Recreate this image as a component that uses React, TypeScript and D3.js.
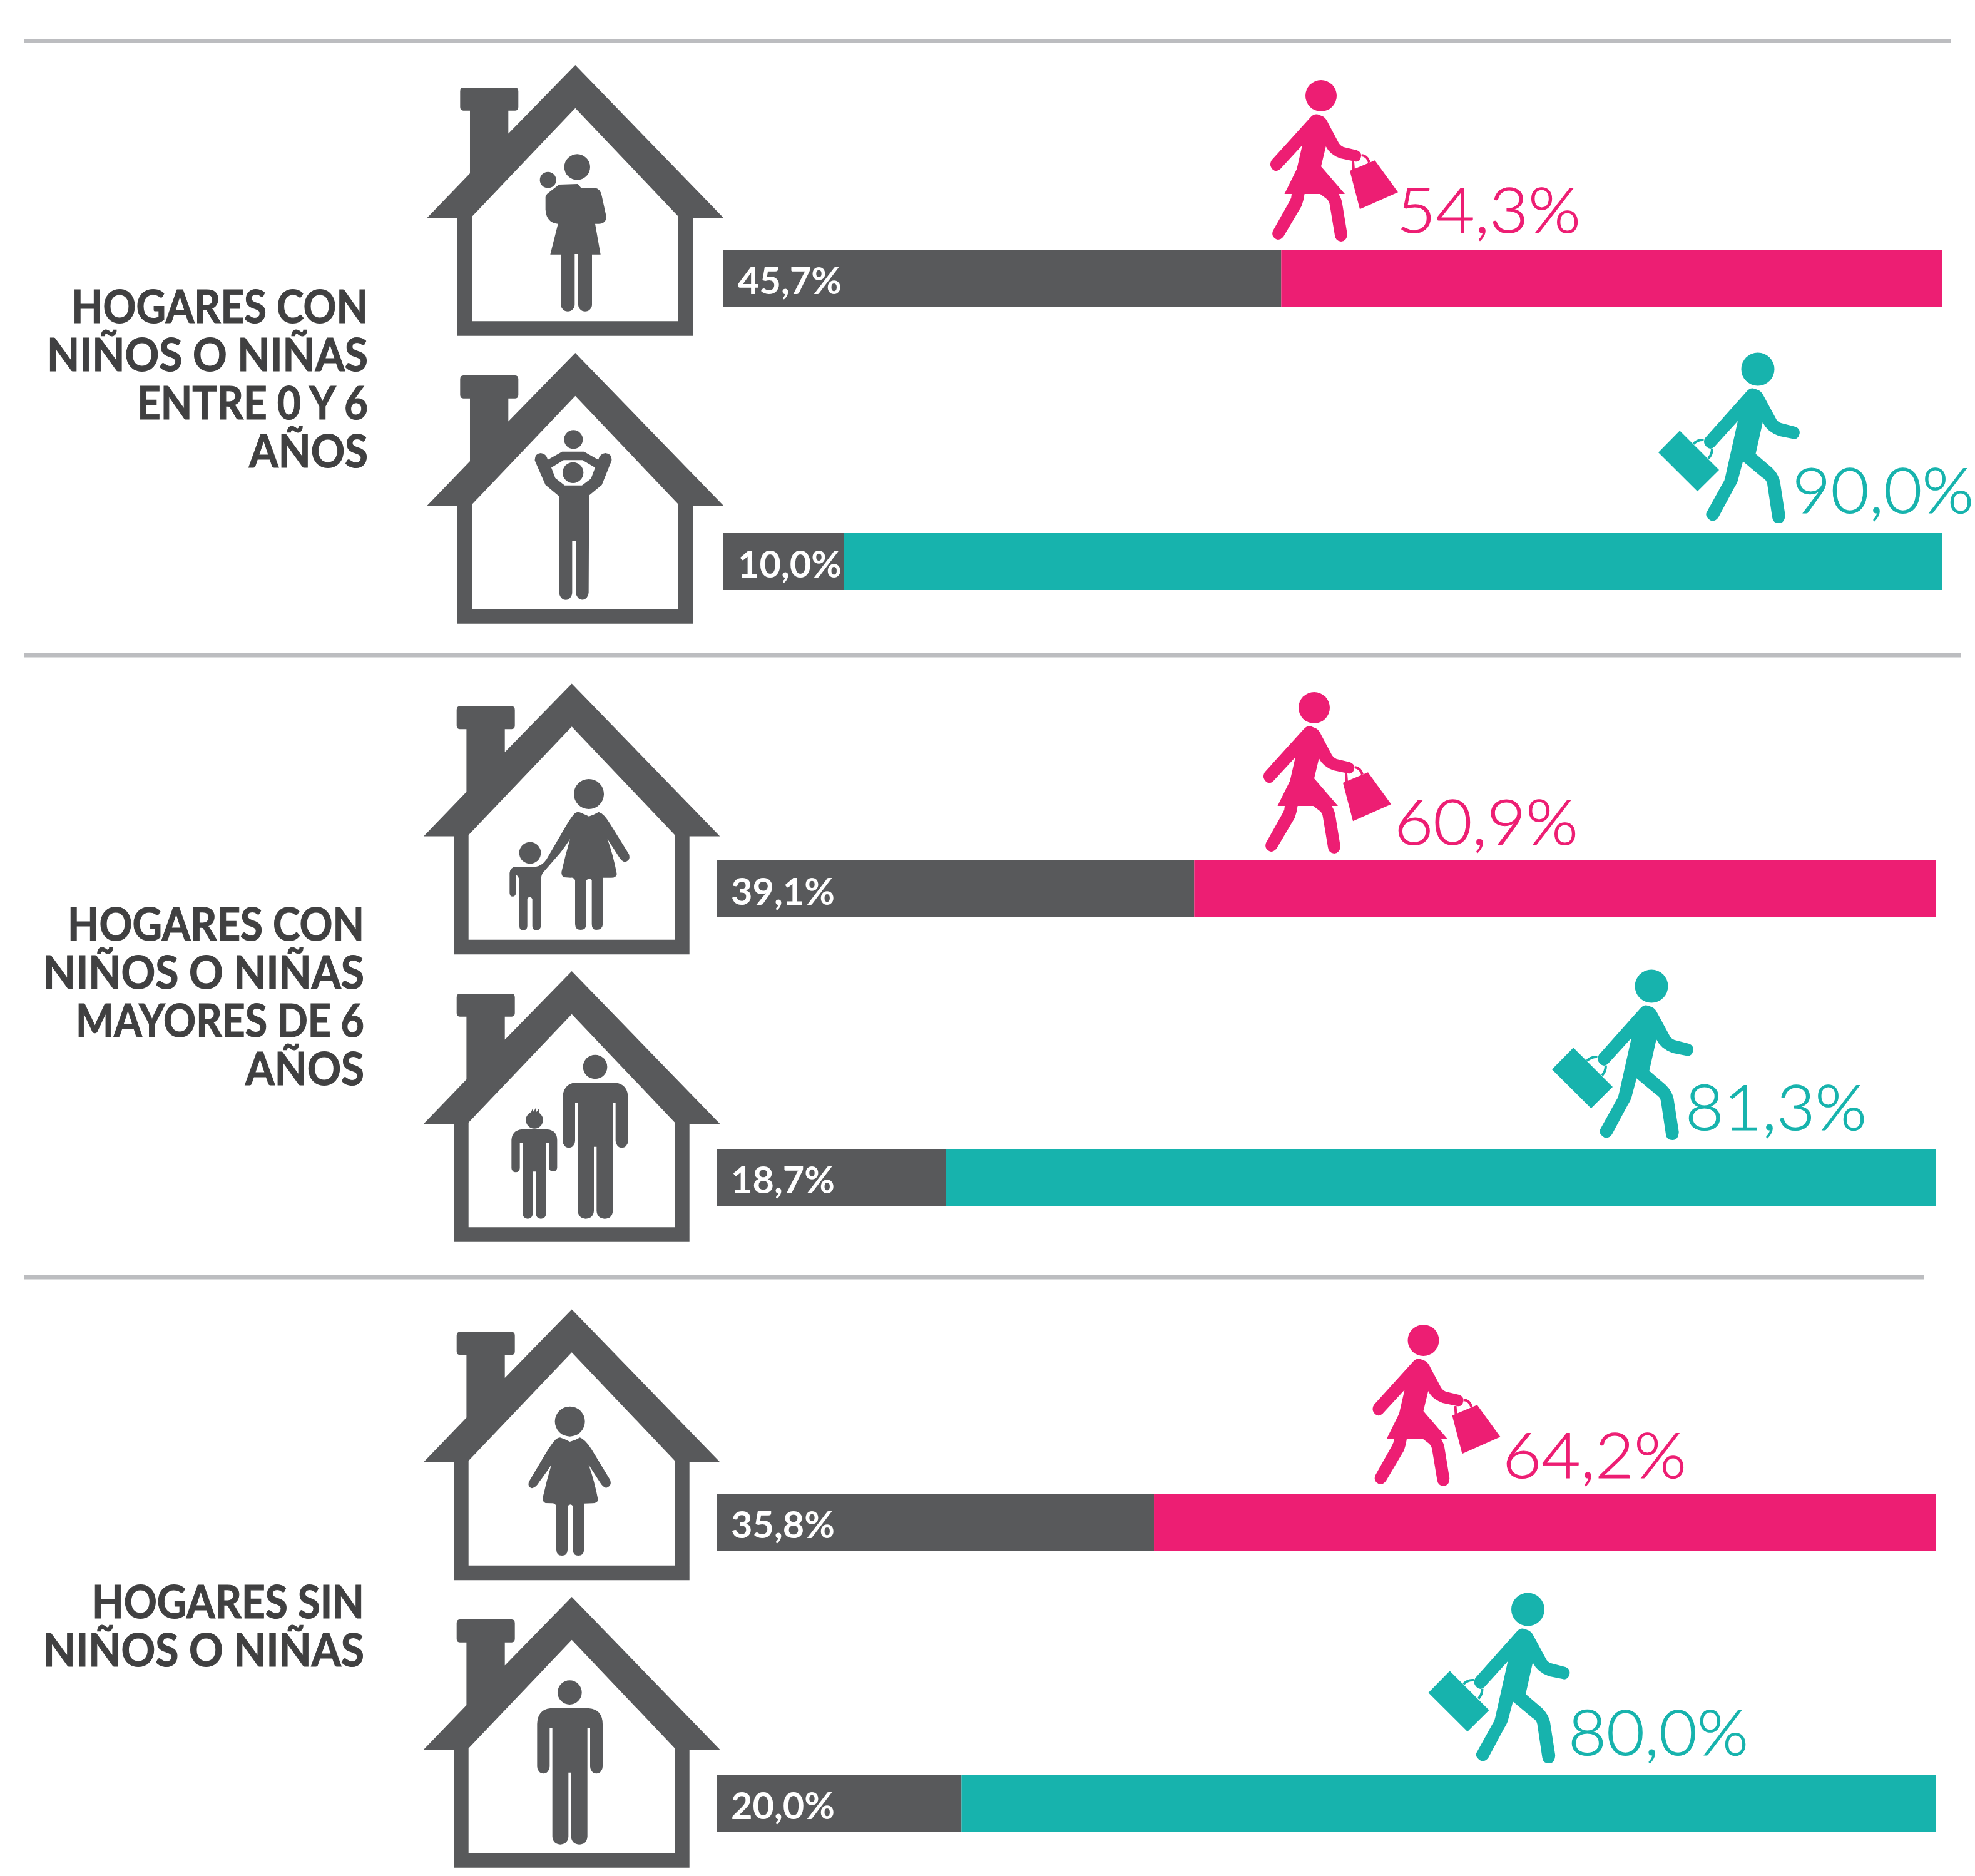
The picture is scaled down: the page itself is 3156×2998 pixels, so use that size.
import React from "react";
import * as d3 from "d3";

// ---------- data ----------
const rowKeys = ["r1", "r2", "r3", "r4", "r5", "r6"];
const notWorking = [45.7, 10.0, 39.1, 18.7, 35.8, 20.0];
const working = [54.3, 90.0, 60.9, 81.3, 64.2, 80.0];
const walkerKinds = ["woman", "man", "woman", "man", "woman", "man"];
const sectionLines = [
  ["HOGARES CON", "NIÑOS O NIÑAS", "ENTRE 0 Y 6", "AÑOS"],
  ["HOGARES CON", "NIÑOS O NIÑAS", "MAYORES DE 6", "AÑOS"],
  ["HOGARES SIN", "NIÑOS O NIÑAS"],
];

// ---------- layout ----------
const PINK = "#ED1E73";
const TEAL = "#17B3AD";
const GREY = "#58595B";
const TEXT = "#404041";
const RULE = "#BCBDC0";
const BAR_H = 91;
const barTop = [399, 852, 1375, 1836, 2387, 2836];
const barX0 = [1156, 1156, 1145, 1145, 1145, 1145];
const scaleX0 = [1158, 1154, 1147, 1147, 1147, 1147];
const barX1 = [3104, 3104, 3094, 3094, 3094, 3094];
const houseApex = [[919.3, 104], [919.3, 564], [913.7, 1092.5], [913.7, 1552], [913.7, 2092.5], [913.7, 2552]];
const walkerHead = [[2111, 153], [2809, 590], [2100, 1131], [2639, 1576], [2274.5, 2142], [2441.5, 2572]];
const valueX = [2232, 2864, 2228, 2693, 2401, 2506];
const valueBase = [372, 820, 1350, 1806, 2362, 2805];
const valueW = [294, 290, 294, 290, 294, 288];
const rules = [[38, 3118, 65.5], [38, 3134, 1047], [38, 3074, 2041]];
const sectionRight = [588, 582, 582];
const sectionBase = [516, 1503, 2586];
const sectionWidths = [[474, 513, 369, 190], [474, 513, 461, 190], [435, 513]];

// ---------- glyphs ----------
const HOUSE =
  "M0,0 L236.7,244 L188,244 L188,432.7 L-188.3,432.7 L-188.3,244 L-236.7,244 L-168.3,173 L-168.3,72.7 L-179,72.7 Q-184,72.7 -184,67 L-184,42 Q-184,36 -179,36 L-96,36 Q-91,36 -91,42 L-91,67 Q-91,72.7 -96,72.7 L-107,72.7 L-107,109.5 Z " +
  "M0,68.7 L-165,242 L-165,409.3 L164.7,409.3 L164.7,242 Z";

const WOMAN_WALK =
  "M-16.5,34 Q-10,27 -2,31 L3,33 Q8,36 11,43 L28,75 Q31,80 36,82 L57,87 Q65,90 64,97 Q62,107 54,105 L30.6,100 Q14,94 7.7,81 L0,113 L38,157 L28,157 Q33,165 34,173 L41.7,220 Q42,232 32,233 Q23,232 22,223 L14,175 Q13,168 9,165 L-1.5,157 L-26.4,157 Q-28,168 -31,176 L-60,225 Q-66,232 -72,229 Q-80,225 -77,216 L-50,168 Q-47,163 -47,157 L-58.5,157 L-38.7,117 L-30,79 L-65,117 Q-71,123 -77,118 Q-84,111 -79,103 Z";
const WOMAN_BAG = "M46,120 L86,103.3 L123,154.3 L62,181.3 Z";
const WOMAN_HANDLE = "M51,105 L52,118 M64.7,95 Q74,96 77,106.7";

const MAN_WALK =
  "M-16.7,34.3 Q-11,28 -3,32 L2,34 Q6,36 10,44 L28.4,78 Q31,84 37,86 L60,92 Q68,95 66.7,103 Q64,114 55,111 L33.7,106.7 Q15,100 7.8,85 L-3.5,135.3 L23,158 Q33,168 35.5,180 L43.7,233 Q43,246 33.7,246 Q24,246 23,236.7 L15,183.3 Q14,177 7,173 L-23.8,147.3 L-32,178 Q-33,182 -38,190 L-63,236.7 Q-68,244 -75,242 Q-85,236 -82,229 L-56,182 Q-53,178 -52,172 L-32,82.7 L-69.5,124 Q-76,130 -82,124 Q-89,117 -83.7,109.3 Z";
const MAN_CASE = "M-124.8,98.3 L-62,161 L-96.5,195.3 L-159,133 Z";
const MAN_HANDLE = "M-103,119.3 Q-96,112 -86.5,113 M-73,126.7 Q-73,136 -79,142.7";

const ADULT_MAN =
  "M420,210 L605,210 Q670,215 671,285 L671,490 A30,33 0 0 1 611,490 L611,306 L598,306 L598,825 Q595,863 558,863 Q522,860 520,825 L520,518 L507,518 L507,825 Q505,860 468,863 Q432,860 430,825 L430,306 L417,306 L417,490 A30,33 0 0 1 357,490 L357,285 Q360,215 420,210 Z";

const occupants = [
  {
    origin: [660, 80],
    heads: [[787, 561, 62], [647, 623, 39]],
    paths: ["M700,645 L790,642 L805,660 L870,660 Q900,665 905,700 L927,800 Q925,832 890,833 L873,833 L899,980 L858,980 L858,1220 A33,33 0 0 1 792,1220 L792,978 L775,978 L775,1220 A33,33 0 0 1 709,1220 L709,980 L658,980 L695,833 Q640,830 635,765 L635,705 Q636,695 645,688 Z"],
  },
  {
    origin: [780, 660],
    heads: [[409, 127, 45], [407, 286, 50]],
    paths: ["M355,185 L460,185 L528,224 Q535,195 562,192 Q595,195 592,228 L545,345 L484,395 L482,860 A30,35 0 0 1 421,860 L421,612 L403,612 L403,860 A30,35 0 0 1 341,860 L341,400 L275,345 L224,228 Q222,195 252,192 Q280,195 286,224 Z M362,226 L452,226 L513,262 L493,315 L450,347 L367,347 L322,312 L303,262 Z"],
  },
  {
    origin: [780, 1220],
    heads: [[483, 147, 72], [201, 429, 52]],
    paths: ["M435,233 Q455,240 483,254 Q510,245 530,233 Q555,240 585,290 L675,435 Q685,465 655,473 Q640,470 625,445 L572,362 Q600,440 617,530 Q615,548 590,548 L550,548 L550,770 Q548,798 518,798 Q497,798 497,770 L497,560 Q485,545 471,560 L471,770 Q470,798 444,798 Q418,798 417,770 L417,560 Q410,546 395,548 L365,546 Q350,540 352,520 Q370,440 393,362 Q375,390 345,430 L262,525 Q255,535 253,560 L253,780 Q250,800 232,800 Q212,800 212,780 L212,650 Q200,630 188,650 L188,780 Q187,800 168,800 Q150,800 150,780 L150,560 Q145,540 135,535 L135,620 Q130,638 118,638 Q103,638 103,620 L103,525 Q105,500 130,495 L230,495 Q260,490 280,460 L350,340 Q395,260 415,240 Q425,232 435,233 Z"],
  },
  {
    origin: [780, 1660],
    heads: [[513, 135, 58], [222, 390, 41]],
    paths: [
      ADULT_MAN,
      "M160,435 L285,435 Q330,440 331,485 L331,620 A20,20 0 0 1 292,620 L292,498 L279,498 L279,835 Q277,863 253,863 Q230,863 228,835 L228,637 L215,637 L215,835 Q213,863 190,863 Q166,863 165,835 L165,498 L152,498 L152,620 A20,20 0 0 1 112,620 L112,485 Q115,440 160,435 Z",
      "M205,355 L213,335 L218,352 L227,333 L232,352 L245,333 L245,365 Z",
    ],
  },
  {
    origin: [780, 2220],
    heads: [[392, 155, 72]],
    paths: ["M345,232 Q370,240 392,252 Q420,245 440,232 Q465,240 497,290 L585,435 Q595,465 565,473 Q550,470 535,445 L482,362 Q510,440 527,530 Q525,546 500,547 L460,548 L460,770 Q458,798 432,798 Q407,798 407,770 L407,560 Q395,545 381,560 L381,770 Q380,798 354,798 Q328,798 327,770 L327,560 Q320,546 305,547 L275,546 Q260,540 262,520 Q280,440 303,362 Q285,390 245,445 Q230,472 210,475 Q188,470 195,445 L275,310 Q305,260 325,240 Q335,232 345,232 Z"],
  },
  {
    origin: [780 - 122 / 3, 2660],
    heads: [[513, 134, 58]],
    paths: [ADULT_MAN],
  },
];

const fmt = (v: number) => v.toFixed(1).replace(".", ",") + "%";

function Walker({ kind, color, x, y }: { kind: string; color: string; x: number; y: number }) {
  const woman = kind === "woman";
  return (
    <g transform={`translate(${x},${y})`} fill={color}>
      <circle r={woman ? 25 : 26.5} />
      <path d={woman ? WOMAN_WALK : MAN_WALK} />
      <path d={woman ? WOMAN_BAG : MAN_CASE} />
      <path d={woman ? WOMAN_HANDLE : MAN_HANDLE} fill="none" stroke={color} strokeWidth={4} />
    </g>
  );
}

export default function App() {
  return (
    <svg
      width={3156}
      height={2998}
      viewBox="0 0 3156 2998"
      style={{ position: "absolute", left: 0, top: 0, background: "#fff" }}
    >
      {rules.map(([x0, x1, y], i) => (
        <line key={i} x1={x0} x2={x1} y1={y} y2={y} stroke={RULE} strokeWidth={7} />
      ))}

      {sectionLines.map((lines, s) => (
        <g key={s}>
          {lines.map((t, i) => (
            <text
              key={i}
              x={sectionRight[s]}
              y={sectionBase[s] + i * 77}
              textAnchor="end"
              fontFamily="Lato"
              fontWeight={700}
              fontSize={73}
              fill={TEXT}
              stroke={TEXT}
              strokeWidth={1.2}
              textLength={sectionWidths[s][i]}
              lengthAdjust="spacingAndGlyphs"
            >
              {t}
            </text>
          ))}
        </g>
      ))}

      {rowKeys.map((k, i) => {
        const x = d3.scaleLinear().domain([0, 100]).range([scaleX0[i], barX1[i]]);
        const color = walkerKinds[i] === "woman" ? PINK : TEAL;
        const occ = occupants[i];
        return (
          <g key={k}>
            <path d={HOUSE} transform={`translate(${houseApex[i][0]},${houseApex[i][1]})`} fill={GREY} fillRule="evenodd" />
            <g transform={`translate(${occ.origin[0]},${occ.origin[1]}) scale(${1 / 3})`} fill={GREY}>
              {occ.heads.map(([cx, cy, r], j) => (
                <circle key={j} cx={cx} cy={cy} r={r} />
              ))}
              {occ.paths.map((d, j) => (
                <path key={j} d={d} fillRule="evenodd" />
              ))}
            </g>
            <rect x={barX0[i]} y={barTop[i]} width={x(notWorking[i]) - barX0[i]} height={BAR_H} fill={GREY} />
            <rect x={x(notWorking[i])} y={barTop[i]} width={x(100) - x(notWorking[i])} height={BAR_H} fill={color} />
            <text
              x={barX0[i] + 23}
              y={barTop[i] + 71}
              fontFamily="Lato"
              fontWeight={700}
              fontSize={60}
              fill="#fff"
              textLength={166}
              lengthAdjust="spacingAndGlyphs"
            >
              {fmt(notWorking[i])}
            </text>
            <Walker kind={walkerKinds[i]} color={color} x={walkerHead[i][0]} y={walkerHead[i][1]} />
            <text
              x={valueX[i]}
              y={valueBase[i]}
              fontFamily="Lato"
              fontWeight={300}
              fontSize={101}
              fill={color}
              stroke={color}
              strokeWidth={1.2}
              textLength={valueW[i]}
              lengthAdjust="spacingAndGlyphs"
            >
              {fmt(working[i])}
            </text>
          </g>
        );
      })}
    </svg>
  );
}
